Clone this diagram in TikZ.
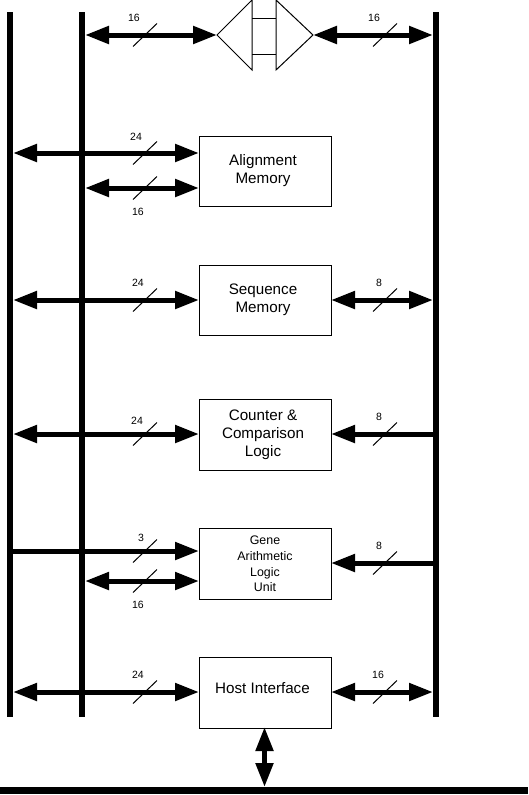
\documentclass[tikz,border=0pt]{standalone}
\usepackage{fontspec}
\setmainfont{Liberation Sans}
\usetikzlibrary{arrows.meta}
\tikzset{
  x=1pt,y=-1pt,
  blockbox/.style={draw=black,line width=1pt,minimum width=132pt,inner sep=0pt,anchor=north west},
  blocktext/.style={align=center,font=\fontsize{15.2}{18}\selectfont,inner sep=0pt},
  bus/.style={line width=6pt},
  link/.style={line width=5pt},
  tipa/.style={-{Triangle[length=24pt,width=17pt]}},
  tipb/.style={{Triangle[length=24pt,width=17pt]}-{Triangle[length=24pt,width=17pt]}},
  thin1/.style={line width=1pt},
  buslabel/.style={font=\fontsize{10.5}{12}\selectfont,inner sep=0pt},
}
\begin{document}
\begin{tikzpicture}
\useasboundingbox (0,0) rectangle (528,795);
% buses
\coordinate (L1t) at (10,12); \coordinate (L1b) at (10,717);
\coordinate (L2t) at (82,12); \coordinate (L2b) at (82,717);
\coordinate (Rt) at (436,12); \coordinate (Rb) at (436,717);
\coordinate (Bl) at (0,790.5); \coordinate (Br) at (528,790.5);
\draw[bus] (L1t) -- (L1b);
\draw[bus] (L2t) -- (L2b);
\draw[bus] (Rt) -- (Rb);
\draw[line width=7pt] (Bl) -- (Br);
% blocks
\node[blockbox,minimum height=70pt] (align) at (199,136) {};
\node[blocktext] (alignt) at (263,170.5) {Alignment\\Memory};
\node[blockbox,minimum height=70pt] (seq) at (199,265) {};
\node[blocktext] (seqt) at (263,299.5) {Sequence\\Memory};
\node[blockbox,minimum height=71pt] (cnt) at (199,399) {};
\node[blocktext] (cntt) at (263,434.5) {Counter \&\\Comparison\\Logic};
\node[blockbox,minimum height=71pt] (gene) at (199,528) {};
\node[align=center,font=\fontsize{12.4}{15.7}\selectfont,inner sep=0pt] (genet) at (265,564) {Gene\\Arithmetic\\Logic\\Unit};
\node[blockbox,minimum height=71pt] (host) at (199,657) {};
\node[blocktext] (hostt) at (262.5,688) {Host Interface};
% top transceiver
\coordinate (tl) at (217,35); \coordinate (tr) at (313,35);
\coordinate (a1) at (252,0); \coordinate (a2) at (252,70);
\coordinate (b1) at (276,0); \coordinate (b2) at (276,70);
\draw[thin1] (a1) -- (tl) -- (a2) -- cycle;
\draw[thin1] (b1) -- (tr) -- (b2) -- cycle;
\draw[thin1] (252,18) -- (276,18) (252,54) -- (276,54);
% bus endpoints
\coordinate (p1) at (85,35); \coordinate (p2) at (433,35);
\coordinate (p3) at (13,153); \coordinate (p3b) at (199,153);
\coordinate (p4) at (85,188); \coordinate (p4b) at (199,188);
\coordinate (p5) at (13,300); \coordinate (p5b) at (199,300);
\coordinate (p6) at (331,300); \coordinate (p6b) at (433,300);
\coordinate (p7) at (13,434); \coordinate (p7b) at (199,434);
\coordinate (p8) at (436,434); \coordinate (p8b) at (331,434);
\coordinate (p9) at (13,551); \coordinate (p9b) at (199,551);
\coordinate (p10) at (85,581); \coordinate (p10b) at (199,581);
\coordinate (p11) at (436,563); \coordinate (p11b) at (331,563);
\coordinate (p12) at (13,692); \coordinate (p12b) at (199,692);
\coordinate (p13) at (331,692); \coordinate (p13b) at (433,692);
\coordinate (v1) at (264.5,727); \coordinate (v2) at (264.5,787);
% links
\draw[link,tipb] (p1) -- (tl);
\draw[link,tipb] (tr) -- (p2);
\draw[link,tipb] (p3) -- (p3b);
\draw[link,tipb] (p4) -- (p4b);
\draw[link,tipb] (p5) -- (p5b);
\draw[link,tipb] (p6) -- (p6b);
\draw[link,tipb] (p7) -- (p7b);
\draw[link,tipa] (p8) -- (p8b);
\draw[link,tipa] (p9) -- (p9b);
\draw[link,tipb] (p10) -- (p10b);
\draw[link,tipa] (p11) -- (p11b);
\draw[link,tipb] (p12) -- (p12b);
\draw[link,tipb] (p13) -- (p13b);
\draw[link,tipb] (v1) -- (v2);
% slashes
\foreach \cx/\cy in {145/35,385/35,145/153,145/188,145/300,385/300,145/434,385/434,145/551,145/581,385/563,145/692,385/692}
  \draw[thin1] (\cx-12,\cy+11.5) -- (\cx+12,\cy-11.5);
% labels
\node[buslabel] (l1) at (134,18) {16};
\node[buslabel] (l2) at (374,18) {16};
\node[buslabel] (l3) at (136,137) {24};
\node[buslabel] (l4) at (138,212) {16};
\node[buslabel] (l5) at (138,283) {24};
\node[buslabel] (l6) at (379,283) {8};
\node[buslabel] (l7) at (137,421) {24};
\node[buslabel] (l8) at (379,417) {8};
\node[buslabel] (l9) at (141,538) {3};
\node[buslabel] (l10) at (138,605) {16};
\node[buslabel] (l11) at (379,546) {8};
\node[buslabel] (l12) at (138,675) {24};
\node[buslabel] (l13) at (378,675) {16};
\end{tikzpicture}
\end{document}
